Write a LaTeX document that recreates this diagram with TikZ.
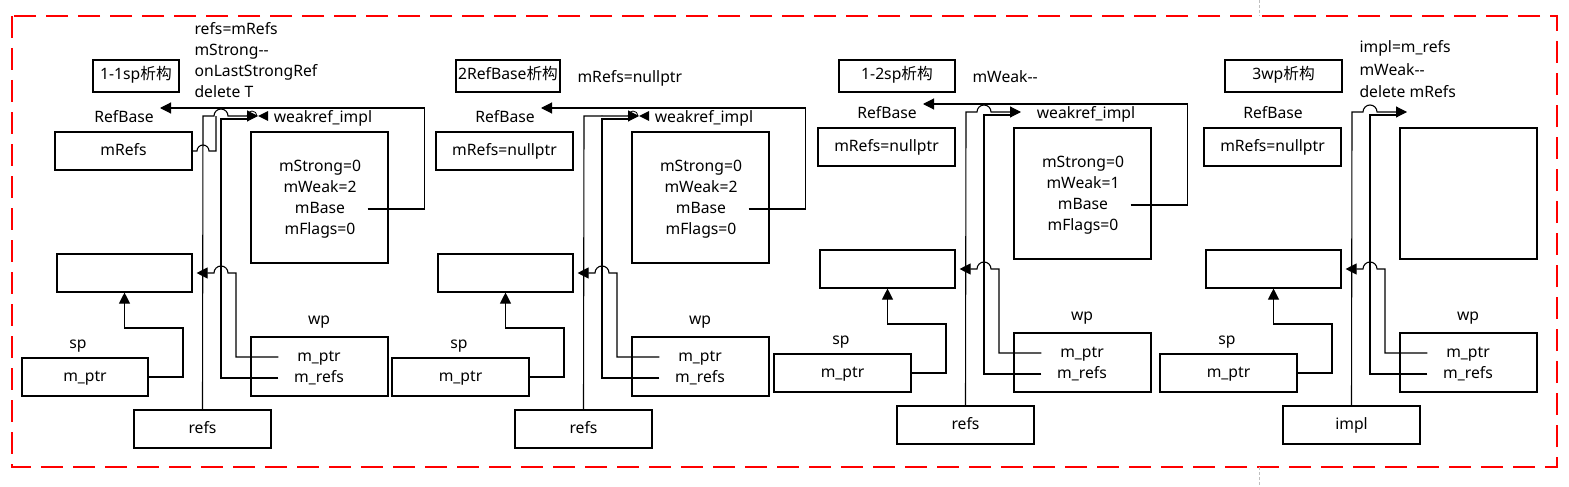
\documentclass[tikz,border=0pt]{standalone}
\usepackage{fontspec}
\setmainfont{Noto Sans}
\newfontfamily\cjk{Noto Sans CJK SC}
\usepackage{tikz}
\usetikzlibrary{arrows.meta}

\begin{document}
\begin{tikzpicture}[x=1pt, y=-1pt, line width=1.1pt,
    >={Triangle[length=11pt,width=11pt]},
    font=\fontsize{15.7}{18}\selectfont,
    every node/.style={inner sep=0pt, text height=11pt, text depth=3pt},
    box/.style={draw, minimum height=38pt},
    field/.style={minimum width=94pt},
    wpfield/.style={minimum width=80pt}]
  \useasboundingbox (0,0) rectangle (1569,487);

  \draw[red, line width=2.5pt, dash pattern=on 22pt off 10pt] (12,16) rectangle (1557,467);
  \draw[gray!50, line width=0.8pt, dash pattern=on 3pt off 2pt] (1259,0) -- (1259,16) (1259,467) -- (1259,487);

  % titles
  \begin{scope}[every node/.append style={box, minimum height=32pt}]
    \node[minimum width=86pt]  (t1) at (136,76)    {1-1sp{\cjk 析构}};
    \node[minimum width=104pt] (t2) at (508,76)    {2RefBase{\cjk 析构}};
    \node[minimum width=116pt] (t3) at (897,76)    {1-2sp{\cjk 析构}};
    \node[minimum width=117pt] (t4) at (1283.5,76) {3wp{\cjk 析构}};
  \end{scope}

  % notes
  \begin{scope}[every node/.append style={anchor=base west}]
    \node (n1a) at (194,35)   {refs=mRefs};
    \node (n1b) at (194,55.7) {mStrong-{}-};
    \node (n1c) at (194,76.3) {onLastStrongRef};
    \node (n1d) at (194,97)   {delete T};
    \node (n2)  at (577,83)   {mRefs=nullptr};
    \node (n3)  at (972,83)   {mWeak-{}-};
    \node (n4a) at (1359,53)  {impl=m\_refs};
    \node (n4b) at (1359,75)  {mWeak-{}-};
    \node (n4c) at (1359,97)  {delete mRefs};
  \end{scope}

  % one block per step
  \foreach \i/\dx/\dy/\mrtext/\spw/\lowtext/\hr in {1/0/0/mRefs/126/refs/7,
      2/381/0/mRefs=nullptr/137/refs/0.01, 3/763/-4/mRefs=nullptr/137/refs/7,
      4/1149/-4/mRefs=nullptr/137/impl/7}{
    \begin{scope}[shift={(\dx,\dy)}]
      \node (rb\i) at (124,118) {RefBase};
      \node[box, minimum width=137pt] (mr\i) at (123.5,151) {\mrtext};
      \node[box, minimum width=135pt] (obj\i) at (124.5,273) {};
      \node (spl\i) at (78,344) {sp};
      \node[box, minimum width=\spw] (sp\i) at ({148-\spw/2},377) {m\_ptr};
      \node[box, minimum width=137pt, minimum height=131pt] (wi\i) at (319.5,197.5) {};
      \node (wpl\i) at (319,320) {wp};
      \node[box, minimum width=137pt, minimum height=59pt] (wp\i) at (319.5,366.5) {};
      \node[wpfield] (wptr\i) at (319,357) {m\_ptr};
      \node[wpfield] (wrefs\i) at (319,378) {m\_refs};
      \node[box, minimum width=137pt] (low\i) at (202.5,429) {\lowtext};
      \coordinate (tip\i) at (258,116);

      \draw[->] (sp\i.east) -| (183,328) -| (obj\i.south);
      \draw[->] (wptr\i.west) -| (236,273) -- (228,273)
        arc[start angle=0, end angle=180, radius=7pt] -- ([xshift=4pt]obj\i.east);
      \draw (wrefs\i.west) -| (221,119) -- (250,119);
      \draw[->] (low\i.north) -- (203,116) -- ({221-\hr},116)
        arc[start angle=180, end angle=0, radius=\hr pt] -- (tip\i);
    \end{scope}
  }

  % weakref_impl still alive
  \foreach \i/\dx/\dy/\weak in {1/0/0/2, 2/381/0/2, 3/763/-4/1}{
    \begin{scope}[shift={(\dx,\dy)}]
      \node (wil\i) at (323,118) {weakref\_impl};
      \node[field] (s\i) at (320,167) {mStrong=0};
      \node[field] (w\i) at (320,188) {mWeak=\weak};
      \node[field] (b\i) at (320,209) {mBase};
      \node[field] (f\i) at (320,230) {mFlags=0};
      \coordinate (rbt\i) at (160,108);
      \draw[->] (b\i.east) -- ++(57,0) |- (rbt\i);
    \end{scope}
  }

  % mRefs -> weakref_impl
  \draw (mr1.east) -- (197,151) arc[start angle=180, end angle=0, radius=6pt]
    -- (216,151) -- (216,116);

  \foreach \i in {1,2}{
    \fill (tip\i) -- ++(10,-5) -- ++(0,10) -- cycle;
    \draw[line width=0.8pt] ([xshift=-11pt]tip\i) arc[start angle=180, end angle=0, radius=5pt];
  }
\end{tikzpicture}
\end{document}
